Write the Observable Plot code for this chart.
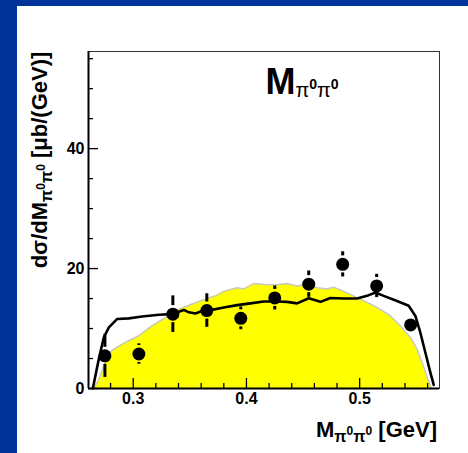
<!DOCTYPE html>
<html><head><meta charset="utf-8">
<script src="https://cdn.jsdelivr.net/npm/d3@7"></script>
<script src="https://cdn.jsdelivr.net/npm/@observablehq/plot@0.6"></script>
<style>
html,body{margin:0;padding:0;background:#003399;}
#wrap{position:relative;width:468px;height:453px;overflow:hidden;background:#003399;}
#panel{position:absolute;left:17px;top:6px;width:451px;height:447px;background:#fff;}
#chart{position:absolute;left:0;top:0;}
</style></head><body>
<div id="wrap"><div id="panel"></div><div id="chart"></div></div>
<script>
// Data points (bin centers, dσ/dM values, errors)
const binCenters = [0.275, 0.305, 0.335, 0.365, 0.395, 0.425, 0.455, 0.485, 0.515, 0.545];
const values     = [5.45, 5.75, 12.4, 13.0, 11.7, 15.1, 17.4, 20.7, 17.1, 10.6];
const errors     = [3.6, 1.7, 3.05, 2.8, 1.9, 2.0, 2.2, 2.1, 1.95, 1.0];

// Phase-space distribution (yellow)
const phaseX = [0.2652, 0.2696, 0.2756, 0.2815, 0.2932, 0.305, 0.3168, 0.3285, 0.3402, 0.3521, 0.3638, 0.3682, 0.3726, 0.38, 0.3918, 0.3976, 0.4064, 0.4183, 0.4271, 0.4359, 0.4447, 0.4536, 0.4624, 0.4712, 0.477, 0.483, 0.4918, 0.5006, 0.5094, 0.5183, 0.5271, 0.5359, 0.5447, 0.5506, 0.555, 0.5595, 0.5624, 0.5632];
const phaseY = [0, 1.5, 4.5, 6.4, 7.7, 8.8, 10.5, 11.8, 13.2, 14.1, 14.9, 15.2, 15.45, 16.2, 16.8, 16.6, 17.5, 17.3, 17.3, 17.5, 17.1, 17.4, 16.8, 16.6, 16.9, 16.45, 15.7, 14.9, 14.1, 13.2, 12.1, 10.45, 8.55, 6.6, 4.4, 1.9, 0.5, 0];

// Model curve (black line)
const modelX = [0.2643, 0.2696, 0.274, 0.2785, 0.2859, 0.2961, 0.3079, 0.3226, 0.3344, 0.3447, 0.3491, 0.355, 0.3609, 0.3682, 0.38, 0.3918, 0.4035, 0.4153, 0.4271, 0.4359, 0.4447, 0.455, 0.4653, 0.4742, 0.4859, 0.4977, 0.5065, 0.5139, 0.5212, 0.533, 0.5433, 0.5492, 0.5536, 0.558, 0.5624, 0.5654];
const modelY = [0, 4.9, 8.5, 10.2, 11.6, 11.7, 12.0, 12.3, 12.4, 13.1, 12.7, 12.5, 12.95, 13.07, 13.5, 13.9, 14.2, 14.5, 14.5, 14.45, 14.2, 15.05, 14.45, 15.1, 15.0, 15.0, 15.45, 16.0, 15.45, 14.6, 13.8, 12.1, 9.3, 6.0, 2.7, 0.6];

// Axis ticks
const xDomain = [0.2605, 0.5705];
const yDomain = [0, 56.2];
const majorX = [0.3, 0.4, 0.5];
const minorX = [0.28, 0.32, 0.34, 0.36, 0.38, 0.42, 0.44, 0.46, 0.48, 0.52, 0.54, 0.56];
const majorY = [0, 20, 40];
const minorY = [5, 10, 15, 25, 30, 35, 45, 50, 55];

const W = 468, H = 453, mL = 88, mR = 29, mT = 51, mB = 65;
const innerW = W - mL - mR, innerH = H - mT - mB;
const pxPerUnit = innerH / (yDomain[1] - yDomain[0]);
const R = 6.5, GAP = 8.5;

const points = binCenters.map((x, i) => ({x, y: values[i], e: errors[i]}));
const phase = phaseX.map((x, i) => ({x, y: phaseY[i]}));
const model = modelX.map((x, i) => ({x, y: modelY[i]}));
const withBars = points.filter(d => d.e * pxPerUnit > GAP + 1);

const plot = Plot.plot({
  width: W, height: H,
  marginLeft: mL, marginRight: mR, marginTop: mT, marginBottom: mB,
  x: {domain: xDomain},
  y: {domain: yDomain},
  style: {background: "transparent", fontFamily: "'Liberation Sans', Arial, sans-serif", fontWeight: "bold", fontSize: "16px", color: "black"},
  marks: [
    Plot.areaY(phase, {x: "x", y: "y", fill: "#ffff00"}),
    Plot.line(phase, {x: "x", y: "y", stroke: "#c8c8c8", strokeWidth: 1.5}),
    Plot.line(model, {x: "x", y: "y", stroke: "black", strokeWidth: 2.6}),
    Plot.ruleX(withBars, {x: "x", y1: d => d.y + d.e, y2: "y", insetBottom: GAP, stroke: "black", strokeWidth: 3}),
    Plot.ruleX(withBars, {x: "x", y1: "y", y2: d => d.y - d.e, insetTop: GAP, stroke: "black", strokeWidth: 3}),
    Plot.dot(points, {x: "x", y: "y", r: R, fill: "black"}),
    Plot.ruleX(majorX, {insetTop: innerH - 10, stroke: "black", strokeWidth: 1.3}),
    Plot.ruleX(minorX, {insetTop: innerH - 5, stroke: "black", strokeWidth: 1.3}),
    Plot.ruleY(majorY, {insetRight: innerW - 10, stroke: "black", strokeWidth: 1.3}),
    Plot.ruleY(minorY, {insetRight: innerW - 5, stroke: "black", strokeWidth: 1.3}),
    Plot.frame({stroke: "#333", strokeWidth: 1}),
    Plot.ruleY([yDomain[0]], {stroke: "black", strokeWidth: 2}),
    Plot.ruleX([xDomain[0]], {stroke: "black", strokeWidth: 2}),
    Plot.axisX(majorX, {tickSize: 0, tickPadding: 4, label: null, tickFormat: d3.format(".1f"), fontSize: 16, fontWeight: "bold"}),
    Plot.axisY(majorY, {tickSize: 0, tickPadding: 4, label: null, fontSize: 16, fontWeight: "bold"})
  ]
});
document.getElementById("chart").appendChild(plot);

const svg = d3.select(plot);
const FF = "'Liberation Sans', Arial, sans-serif";

// Y axis title
const yt = svg.append("text")
  .attr("transform", "translate(47,160) rotate(-90)")
  .attr("text-anchor", "middle")
  .attr("font-family", FF).attr("font-weight", "bold").attr("font-size", 22).attr("fill", "black");
yt.append("tspan").text("dσ/dM");
yt.append("tspan").attr("font-size", 16).attr("dy", 5).text("π");
yt.append("tspan").attr("font-size", 12).attr("dy", -7).text("0");
yt.append("tspan").attr("font-size", 16).attr("dy", 7).text("π");
yt.append("tspan").attr("font-size", 12).attr("dy", -7).text("0");
yt.append("tspan").attr("dy", 2).text(" [μb/(GeV)]");

// X axis title
const xt = svg.append("text")
  .attr("x", 437).attr("y", 437)
  .attr("text-anchor", "end")
  .attr("font-family", FF).attr("font-weight", "bold").attr("font-size", 22).attr("fill", "black");
xt.append("tspan").text("M");
xt.append("tspan").attr("font-size", 16).attr("dy", 5).text("π");
xt.append("tspan").attr("font-size", 12).attr("dy", -7).text("0");
xt.append("tspan").attr("font-size", 16).attr("dy", 7).text("π");
xt.append("tspan").attr("font-size", 12).attr("dy", -7).text("0");
xt.append("tspan").attr("dy", 2).text(" [GeV]");

// Annotation
const an = svg.append("text")
  .attr("x", 302).attr("y", 94)
  .attr("font-family", FF).attr("font-weight", "bold").attr("font-size", 36).attr("fill", "black");
an.append("tspan").text("M");
an.append("tspan").attr("font-size", 20).attr("font-weight", "normal").attr("dy", 3).text("π");
an.append("tspan").attr("font-size", 14).attr("dy", -8).text("0");
an.append("tspan").attr("font-size", 20).attr("font-weight", "normal").attr("dy", 8).text("π");
an.append("tspan").attr("font-size", 14).attr("dy", -8).text("0");
</script>
</body></html>
